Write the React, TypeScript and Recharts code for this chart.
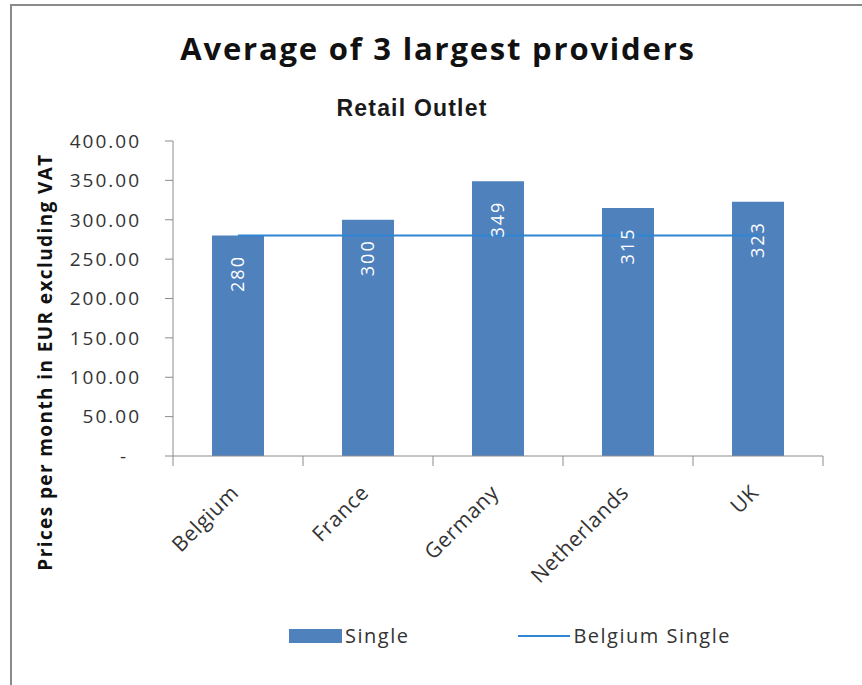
import { ComposedChart, Bar, Line, XAxis, YAxis, LabelList } from 'recharts'

const countries = ['Belgium', 'France', 'Germany', 'Netherlands', 'UK']
const singlePrices = [280, 300, 349, 315, 323]
const belgiumSingle = [280, 280, 280, 280, 280]
const yTicks = [0, 50, 100, 150, 200, 250, 300, 350, 400]

const chartData = countries.map((country, i) => ({
  country,
  single: singlePrices[i],
  belgium: belgiumSingle[i],
}))

const FONT = '"Open Sans", "Noto Sans", sans-serif'
const BAR_BLUE = '#4f81bd'
const LINE_BLUE = '#2f86d2'
const TEXT = '#333333'
const AXIS = '#8c8c8c'

// plot box: x 173..823, y 141..456
const BAND = 130

const YTick = (props: any) => {
  const { x, y, payload } = props
  const v = payload.value as number
  return (
    <text
      x={v === 0 ? x - 13 : x}
      y={y}
      dy="0.36em"
      textAnchor="end"
      fontFamily={FONT}
      fontSize={19}
      letterSpacing={2}
      fill={TEXT}
    >
      {v === 0 ? '-' : v.toFixed(2)}
    </text>
  )
}

const XTick = (props: any) => {
  const { x, y, payload, index } = props
  const left = x - BAND / 2
  const axisY = y - 8
  const ax = x + 2
  const ay = axisY + 38
  return (
    <g>
      <line x1={left} x2={left} y1={axisY} y2={axisY + 10} stroke={AXIS} />
      {index === countries.length - 1 && (
        <line x1={left + BAND} x2={left + BAND} y1={axisY} y2={axisY + 10} stroke={AXIS} />
      )}
      <text
        x={ax}
        y={ay}
        textAnchor="end"
        transform={`rotate(-45, ${ax}, ${ay})`}
        fontFamily={FONT}
        fontSize={21}
        letterSpacing={0.6}
        fill={TEXT}
      >
        {payload.value}
      </text>
    </g>
  )
}

const BarValue = (props: any) => {
  const { x, y, width, value } = props
  const cx = x + width / 2
  const cy = y + 38
  return (
    <text
      x={cx}
      y={cy}
      dy="0.35em"
      textAnchor="middle"
      transform={`rotate(-90, ${cx}, ${cy})`}
      fontFamily={FONT}
      fontSize={18}
      letterSpacing={2}
      fill="#ffffff"
    >
      {value}
    </text>
  )
}

const YLabel = () => (
  <text
    x={52}
    y={362}
    textAnchor="middle"
    transform="rotate(-90, 52, 362)"
    fontFamily={FONT}
    fontSize={19}
    fontWeight={700}
    letterSpacing={1.4}
    fill="#111111"
  >
    Prices per month in EUR excluding VAT
  </text>
)

export default function App() {
  return (
    <div
      style={{
        position: 'absolute',
        left: 0,
        top: 0,
        width: 862,
        height: 685,
        background: '#ffffff',
        overflow: 'hidden',
        fontFamily: FONT,
      }}
    >
      <div
        style={{
          position: 'absolute',
          left: 10,
          top: 4,
          width: 860,
          height: 690,
          borderTop: '2px solid #8a8a8a',
          borderLeft: '2px solid #8a8a8a',
        }}
      />
      <div
        style={{
          position: 'absolute',
          left: 138,
          width: 600,
          top: 27,
          textAlign: 'center',
          fontSize: 31,
          fontWeight: 700,
          letterSpacing: 1.8,
          color: '#111111',
        }}
      >
        Average of 3 largest providers
      </div>
      <div
        style={{
          position: 'absolute',
          left: 212,
          width: 400,
          top: 95,
          textAlign: 'center',
          fontFamily: '"Liberation Sans", Arial, sans-serif',
          fontSize: 23,
          fontWeight: 700,
          letterSpacing: 1.2,
          color: '#1a1a1a',
        }}
      >
        Retail Outlet
      </div>
      <div style={{ position: 'absolute', left: 0, top: 0 }}>
        <ComposedChart
          width={862}
          height={685}
          data={chartData}
          margin={{ top: 141, right: 39, left: 73, bottom: 129 }}
          barCategoryGap={39}
        >
          <XAxis
            dataKey="country"
            height={100}
            stroke={AXIS}
            tickLine={false}
            tick={<XTick />}
            tickMargin={0}
            tickSize={8}
            interval={0}
          />
          <YAxis
            width={100}
            domain={[0, 400]}
            ticks={yTicks}
            stroke={AXIS}
            tickSize={8}
            tickMargin={24}
            tick={<YTick />}
            label={<YLabel />}
          />
          <Bar dataKey="single" fill={BAR_BLUE} barSize={52} isAnimationActive={false}>
            <LabelList dataKey="single" content={<BarValue />} />
          </Bar>
          <Line
            dataKey="belgium"
            stroke={LINE_BLUE}
            strokeWidth={2}
            dot={false}
            activeDot={false}
            isAnimationActive={false}
          />
        </ComposedChart>
      </div>
      <div
        style={{
          position: 'absolute',
          left: 289,
          top: 622,
          display: 'flex',
          alignItems: 'center',
          fontSize: 20,
          letterSpacing: 1.5,
          color: '#333333',
        }}
      >
        <span style={{ display: 'inline-block', width: 53, height: 14, background: BAR_BLUE, marginRight: 3 }} />
        <span>Single</span>
        <span
          style={{ display: 'inline-block', width: 52, height: 2, background: LINE_BLUE, marginLeft: 109, marginRight: 3 }}
        />
        <span>Belgium Single</span>
      </div>
    </div>
  )
}
